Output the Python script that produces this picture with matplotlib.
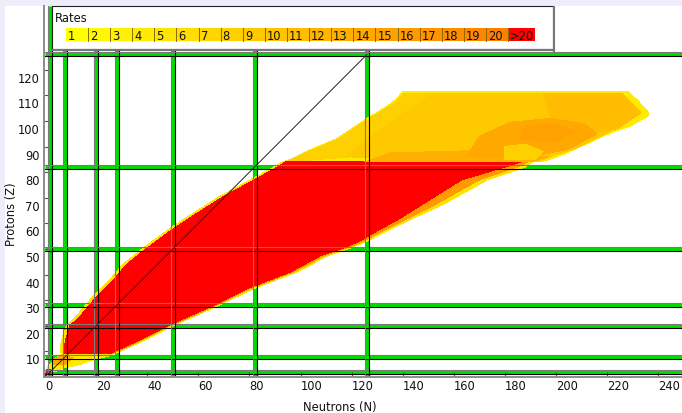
import matplotlib
matplotlib.use("Agg")
import matplotlib.pyplot as plt
from matplotlib.patches import Polygon, Rectangle
from matplotlib.transforms import offset_copy, ScaledTranslation

W, H, DPI = 682, 414, 100

# ---------------- data ----------------
magic_numbers = [2, 8, 20, 28, 50, 82, 126]

rate_labels = ["1", "2", "3", "4", "5", "6", "7", "8", "9", "10", "11", "12",
               "13", "14", "15", "16", "17", "18", "19", "20", ">20"]
rate_colors = ["#ffff00", "#fff800", "#fff200", "#ffeb00", "#ffe400", "#ffde00",
               "#ffd700", "#ffd000", "#ffc900", "#ffc300", "#ffbc00", "#ffb500",
               "#ffaf00", "#ffa800", "#ffa100", "#ff9b00", "#ff9400", "#ff8d00",
               "#ff8700", "#ff8000", "#ff0000"]

x_ticks = [0, 20, 40, 60, 80, 100, 120, 140, 160, 180, 200, 220, 240]
y_ticks = [10, 20, 30, 40, 50, 60, 70, 80, 90, 100, 110, 120]

# region with rates > 20 (Z <= 84): left (proton-rich) edge
red_left_Z = [9, 12, 16, 20, 24, 30, 37, 44, 50, 57, 63, 70, 76, 82, 84]
red_left_N = [7.5, 7.5, 8.5, 9.8, 14, 19, 26, 32, 39.5, 49, 58, 69, 80, 91, 94]
outer_left_N = [6.3, 6, 7, 8.5, 12.5, 17.5, 24.5, 30.5, 38, 47.5, 56.5, 67.5, 78.5, 89.5, 93]
# right (neutron-rich) edge
right_Z = [9, 13.5, 20, 28, 34.5, 41, 47.5, 50.5, 53, 56, 62, 67, 72, 77, 82, 84]
red_right_N = [25, 35, 48, 66, 79, 96, 108, 117, 123, 128, 139, 147, 155, 163, 180, 186]
orange_right_N = [26, 36, 49, 67, 80, 97, 109.5, 118.5, 124.5, 130, 142, 152, 161, 170, 185, 189]
outer_right_N = [27, 37, 50, 68, 81.5, 98.5, 111, 120, 126, 131.5, 144, 155, 164, 173, 188, 191]

# heavy region above Z = 84 (outline, N/Z pairs)
heavy_N = [93, 96, 102, 108, 114, 120, 126, 131, 135, 138, 140, 228, 232, 236, 236,
           229, 222, 216, 209, 203, 196, 192]
heavy_Z = [84, 85, 88, 90.5, 93, 97, 101, 104, 106.5, 109, 111.5, 111.5, 108, 103.5, 102,
           98, 95.6, 93, 89.7, 87, 84.5, 84]
heavy_left_N = [94.5, 102, 115, 127, 137, 140.5, 160, 150, 135, 120]
heavy_left_Z = [84, 87.5, 93, 101, 107, 110.7, 110.7, 100, 92, 86]
heavy_gold_N = [118, 130, 142, 152, 226, 233, 221, 208, 192]
heavy_gold_Z = [86, 96, 104, 110.7, 110.7, 103.5, 96, 89.5, 84]
heavy_right_N = [195, 226, 233, 224, 212, 198]
heavy_right_Z = [110.7, 110.7, 103, 97, 95, 101]
heavy_band_N = [125, 190, 197, 170, 135]
heavy_band_Z = [84, 84, 86, 88.5, 87.5]
heavy_core_N = [165, 190, 205, 216, 211, 198, 182, 170]
heavy_core_Z = [86, 86, 89, 95, 99, 101, 99.5, 94]
heavy_deep_N = [186, 200, 208, 199, 188]
heavy_deep_Z = [93, 92, 96, 99, 98]
heavy_pale_N = [180, 192, 195, 188, 180]
heavy_pale_Z = [85, 85, 88, 91, 90]

# light nuclei below Z = 9
light_N = [1, 4, 7, 10, 14, 18, 22, 26, 27, 8, 5, 3, 1]
light_Z = [2, 2, 3.5, 4, 5, 6.5, 7.5, 8.5, 9.5, 9.5, 8, 6, 4]
light_orange_N = [3, 8, 11, 7, 3]
light_orange_Z = [5, 5, 7.5, 8.5, 7]
light_red_N = [0.3, 2.5, 2.5, 0.3]
light_red_Z = [1, 1, 3, 3]

# ---------------- figure ----------------
fig = plt.figure(figsize=(W / DPI, H / DPI), dpi=DPI, facecolor="#eeeefa")
fig.patches.append(Rectangle((5 / W, 0), 1, 1 - 7 / H, transform=fig.transFigure,
                             facecolor="white", edgecolor="none", zorder=-10))

ax = fig.add_axes([44 / W, 36 / H, (W - 44) / W, (378 - 7) / H])
ax.set_facecolor("white")
ax.set_xlim(-0.4, 638 / 2.555 - 0.4)
ax.set_ylim(0, 371 / 2.56)


def add_poly(Ns, Zs, color, z):
    ax.add_patch(Polygon(list(zip(Ns, Zs)), closed=True, facecolor=color,
                         edgecolor="none", antialiased=False, zorder=z))


def side_poly(lZ, lN, rZ, rN, color, z):
    pts = list(zip(lN, lZ)) + list(zip(rN[::-1], rZ[::-1]))
    ax.add_patch(Polygon(pts, closed=True, facecolor=color, edgecolor="none",
                         antialiased=False, zorder=z))


def col(label):
    return rate_colors[rate_labels.index(label)]


# light nuclei
add_poly(light_N, light_Z, col("4"), 2)
add_poly(light_orange_N, light_orange_Z, col("14"), 2.1)
add_poly(light_red_N, light_red_Z, col(">20"), 2.2)

# medium nuclei: yellow outer rim, orange band, red core
side_poly(red_left_Z, outer_left_N, right_Z, outer_right_N, col("5"), 2)
side_poly(red_left_Z, red_left_N, right_Z, orange_right_N, col("16"), 2.1)
side_poly(red_left_Z, red_left_N, right_Z, red_right_N, col(">20"), 2.2)

# heavy nuclei
add_poly(heavy_N, heavy_Z, col("4"), 2)
add_poly(heavy_left_N, heavy_left_Z, col("8"), 2.05)
add_poly(heavy_gold_N, heavy_gold_Z, col("9"), 2.1)
add_poly(heavy_right_N, heavy_right_Z, col("11"), 2.2)
add_poly(heavy_band_N, heavy_band_Z, col("13"), 2.3)
add_poly(heavy_core_N, heavy_core_Z, col("14"), 2.4)
add_poly(heavy_deep_N, heavy_deep_Z, col("15"), 2.5)
add_poly(heavy_pale_N, heavy_pale_Z, col("8"), 2.6)

# magic number lines
xmax = ax.get_xlim()[1]
ymax = ax.get_ylim()[1]
green = "#00dd00"
t_gray_v = offset_copy(ax.transData, fig=fig, x=-2, y=0, units="dots")
t_blk_v = offset_copy(ax.transData, fig=fig, x=2, y=0, units="dots")
t_gray_h = offset_copy(ax.transData, fig=fig, x=0, y=2, units="dots")
t_blk_h = offset_copy(ax.transData, fig=fig, x=0, y=-2, units="dots")
for m in magic_numbers:
    ax.plot([m, m], [0, ymax], color=green, lw=2.2, zorder=1, solid_capstyle="butt")
    ax.plot([0, xmax], [m, m], color=green, lw=2.2, zorder=1, solid_capstyle="butt")
    ax.plot([m, m], [0, ymax], color="#7a7a7a", lw=0.8, zorder=6, transform=t_gray_v)
    ax.plot([m, m], [0, ymax], color="#000000", lw=0.8, zorder=6, transform=t_blk_v)
    ax.plot([0, xmax], [m, m], color="#7a7a7a", lw=0.8, zorder=6, transform=t_gray_h)
    ax.plot([0, xmax], [m, m], color="#000000", lw=0.8, zorder=6, transform=t_blk_h)

# N = Z line
ax.plot([0, magic_numbers[-1]], [0, magic_numbers[-1]], color="#222222", lw=0.7, zorder=7)

# axes styling
for s in ("top", "right"):
    ax.spines[s].set_visible(False)
for s in ("left", "bottom"):
    ax.spines[s].set_color("#8c8c8c")
    ax.spines[s].set_linewidth(1.4)
    ax.spines[s].set_zorder(8)
ax.set_xticks(x_ticks)
ax.set_xticklabels([str(v) for v in x_ticks], ha="left")
ax.set_yticks(y_ticks)
ax.set_yticklabels([str(v) for v in y_ticks], va="top")
ax.tick_params(direction="in", length=3.6, width=0.8, color="#555555",
               labelsize=8.3, labelcolor="#111111")
ax.tick_params(axis="x", pad=1.5)
ax.tick_params(axis="y", pad=2.9)
for lab in ax.get_yticklabels():
    lab.set_transform(lab.get_transform() + ScaledTranslation(0, -2 / DPI, fig.dpi_scale_trans))

# axis titles
fig.text(303 / W, 1 - 408 / H, "Neutrons (N)", ha="left", va="center", fontsize=8.3,
         color="#111111")
fig.text(12 / W, 1 - 214 / H, "Protons (Z)", ha="center", va="center", rotation=90,
         fontsize=8.3, color="#111111")

# ---------------- legend (pixel coords overlay) ----------------
ov = fig.add_axes([0, 0, 1, 1], zorder=10)
ov.set_xlim(0, W)
ov.set_ylim(H, 0)
ov.axis("off")
ov.patch.set_alpha(0)
ov.add_patch(Rectangle((52, 7), 501, 43, facecolor="white", edgecolor="#222222", lw=0.8))
ov.plot([553.5, 553.5], [8, 51.5], color="#777777", lw=1.5)
ov.plot([53, 553.5], [51, 51], color="#777777", lw=1.5)
ov.text(55, 18, "Rates", ha="left", va="center", fontsize=8.3, color="#111111")
x0 = 65.5
cell_w = 22.1
for i, (lab, c) in enumerate(zip(rate_labels, rate_colors)):
    w = cell_w if lab != ">20" else 27.5
    ov.add_patch(Rectangle((x0, 29), w, 13, facecolor=c, edgecolor="none"))
    if i > 0:
        ov.plot([x0 + 0.5, x0 + 0.5], [29, 42], color="#8a6a00", lw=0.7)
    ov.text(x0 + 2.5, 36, lab, ha="left", va="center", fontsize=8.3, color="#111111")
    x0 += w

fig.savefig("out.png", dpi=DPI, facecolor=fig.get_facecolor())
